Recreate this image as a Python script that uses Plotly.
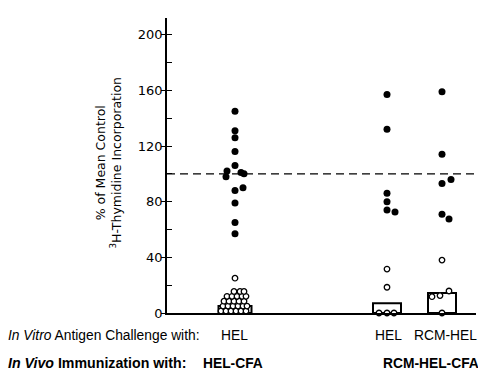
import plotly.graph_objects as go

# ---- data ----
group_names = ["HEL-CFA / HEL", "RCM-HEL-CFA / HEL", "RCM-HEL-CFA / RCM-HEL"]
group_centers = [68, 220, 275]          # x positions of the columns on the axis
bar_means = [5, 7, 14.3]

# filled circles (responders) and jitter offsets
filled_1 = [145, 131, 126, 116, 106, 102, 101, 100, 98, 90, 88, 79, 65, 57]
filled_1_off = [0, 0, 0, 0, 0, -8, 6, 9, -9, 8, 0, 0, 0, 0]
filled_2 = [157, 132, 86, 80, 74, 72.5]
filled_2_off = [0, 0, 0, 0, 0, 8]
filled_3 = [159, 114, 96, 93, 71, 67.5]
filled_3_off = [0, 0, 9, 0, 0, 7]

# open circles (suppressed)
open_1 = [25,
          1.5, 1.5, 1.5, 1.5, 1.5, 1.5,
          5, 5, 5, 5, 5, 5,
          8.5, 8.5, 8.5, 8.5, 8.5,
          12, 12, 12, 12, 12,
          15.5, 15.5, 15.5]
open_1_off = [0,
              -14, -9, -4, 1, 6, 11,
              -12, -7, -2, 3, 8, 12,
              -11, -6, -1, 4, 9,
              -8, -3, 2, 7, 11,
              -1, 5, 9]
open_2 = [31.6, 18.5, 0, 0, 0]
open_2_off = [0, 0, -8, 0, 7]
open_3 = [38, 15.8, 12.5, 11.7, 0]
open_3_off = [0, 7, -2, -10, 0]

y_ticks = [0, 40, 80, 120, 160, 200]
control_level = 100

fig = go.Figure()

# bars (means)
fig.add_trace(go.Bar(
    x=group_centers, y=bar_means, width=[33, 28, 28],
    marker=dict(color="white", line=dict(color="black", width=2)),
    showlegend=False, hoverinfo="skip"))

fill_sets = [(filled_1, filled_1_off), (filled_2, filled_2_off), (filled_3, filled_3_off)]
open_sets = [(open_1, open_1_off), (open_2, open_2_off), (open_3, open_3_off)]

for c, (vals, offs) in zip(group_centers, fill_sets):
    fig.add_trace(go.Scatter(
        x=[c + o for o in offs], y=vals, mode="markers",
        marker=dict(color="black", size=7, line=dict(width=0)),
        showlegend=False, cliponaxis=False))

for c, (vals, offs) in zip(group_centers, open_sets):
    fig.add_trace(go.Scatter(
        x=[c + o for o in offs], y=vals, mode="markers",
        marker=dict(color="white", size=5.5, line=dict(color="black", width=1.3)),
        showlegend=False, cliponaxis=False))

# dashed control line
fig.add_shape(type="line", xref="paper", x0=0, x1=1, yref="y",
              y0=control_level, y1=control_level,
              line=dict(color="black", width=1.2, dash="8px,5px"))

font_main = "Liberation Sans, Arial, sans-serif"

L, R, T, B = 167, 2, 18, 66
W, H = 478, 379
PW, PH = W - L - R, H - T - B


def px_x(p):
    return (p - L) / PW


def px_y(p):
    return (H - B - p) / PH


fig.update_layout(
    width=W, height=H,
    margin=dict(l=L, r=R, t=T, b=B),
    paper_bgcolor="white", plot_bgcolor="white",
    barmode="overlay",
    font=dict(family=font_main, color="black", size=13.8),
    xaxis=dict(range=[0, 309], showgrid=False, zeroline=False,
               showline=True, linecolor="black", linewidth=1.5,
               showticklabels=False, ticks=""),
    yaxis=dict(range=[0, 212], showgrid=False, zeroline=False,
               showline=True, linecolor="black", linewidth=1.5,
               tickvals=y_ticks, ticks="outside", ticklen=4, tickwidth=1.3,
               tickcolor="black",
               tickfont=dict(family="DejaVu Sans, sans-serif", size=13),
               minor=dict(dtick=20, ticks="inside", ticklen=5,
                          tickwidth=1.3, tickcolor="black")),
)
try:
    fig.update_yaxes(ticklabelstandoff=-4)
except Exception:
    pass

annotations = [
    dict(x=px_x(107.5), y=px_y(163), textangle=-90,
         text="% of Mean Control<br><sup>3</sup>H-Thymidine Incorporation",
         font=dict(family="DejaVu Sans, sans-serif", size=12.5)),
    dict(x=px_x(6), y=px_y(335), xanchor="left",
         text="<i>In Vitro</i> Antigen Challenge with:"),
    dict(x=px_x(6), y=px_y(363), xanchor="left",
         text="<b><i>In Vivo</i> Immunization with:</b>",
         font=dict(size=14.2)),
    dict(x=px_x(234), y=px_y(335), text="HEL"),
    dict(x=px_x(388), y=px_y(335), text="HEL"),
    dict(x=px_x(445), y=px_y(335), text="RCM-HEL"),
    dict(x=px_x(233), y=px_y(363), text="<b>HEL-CFA</b>"),
    dict(x=px_x(431), y=px_y(363), text="<b>RCM-HEL-CFA</b>"),
]
for a in annotations:
    a.setdefault("showarrow", False)
    a.setdefault("xanchor", "center")
    a.setdefault("yanchor", "middle")
    a["xref"] = "paper"
    a["yref"] = "paper"
fig.update_layout(annotations=annotations)

fig.write_html("out.html",
               config={"displayModeBar": False},
               post_script="document.body.style.margin='0';"
                           "document.body.style.overflow='hidden';")
